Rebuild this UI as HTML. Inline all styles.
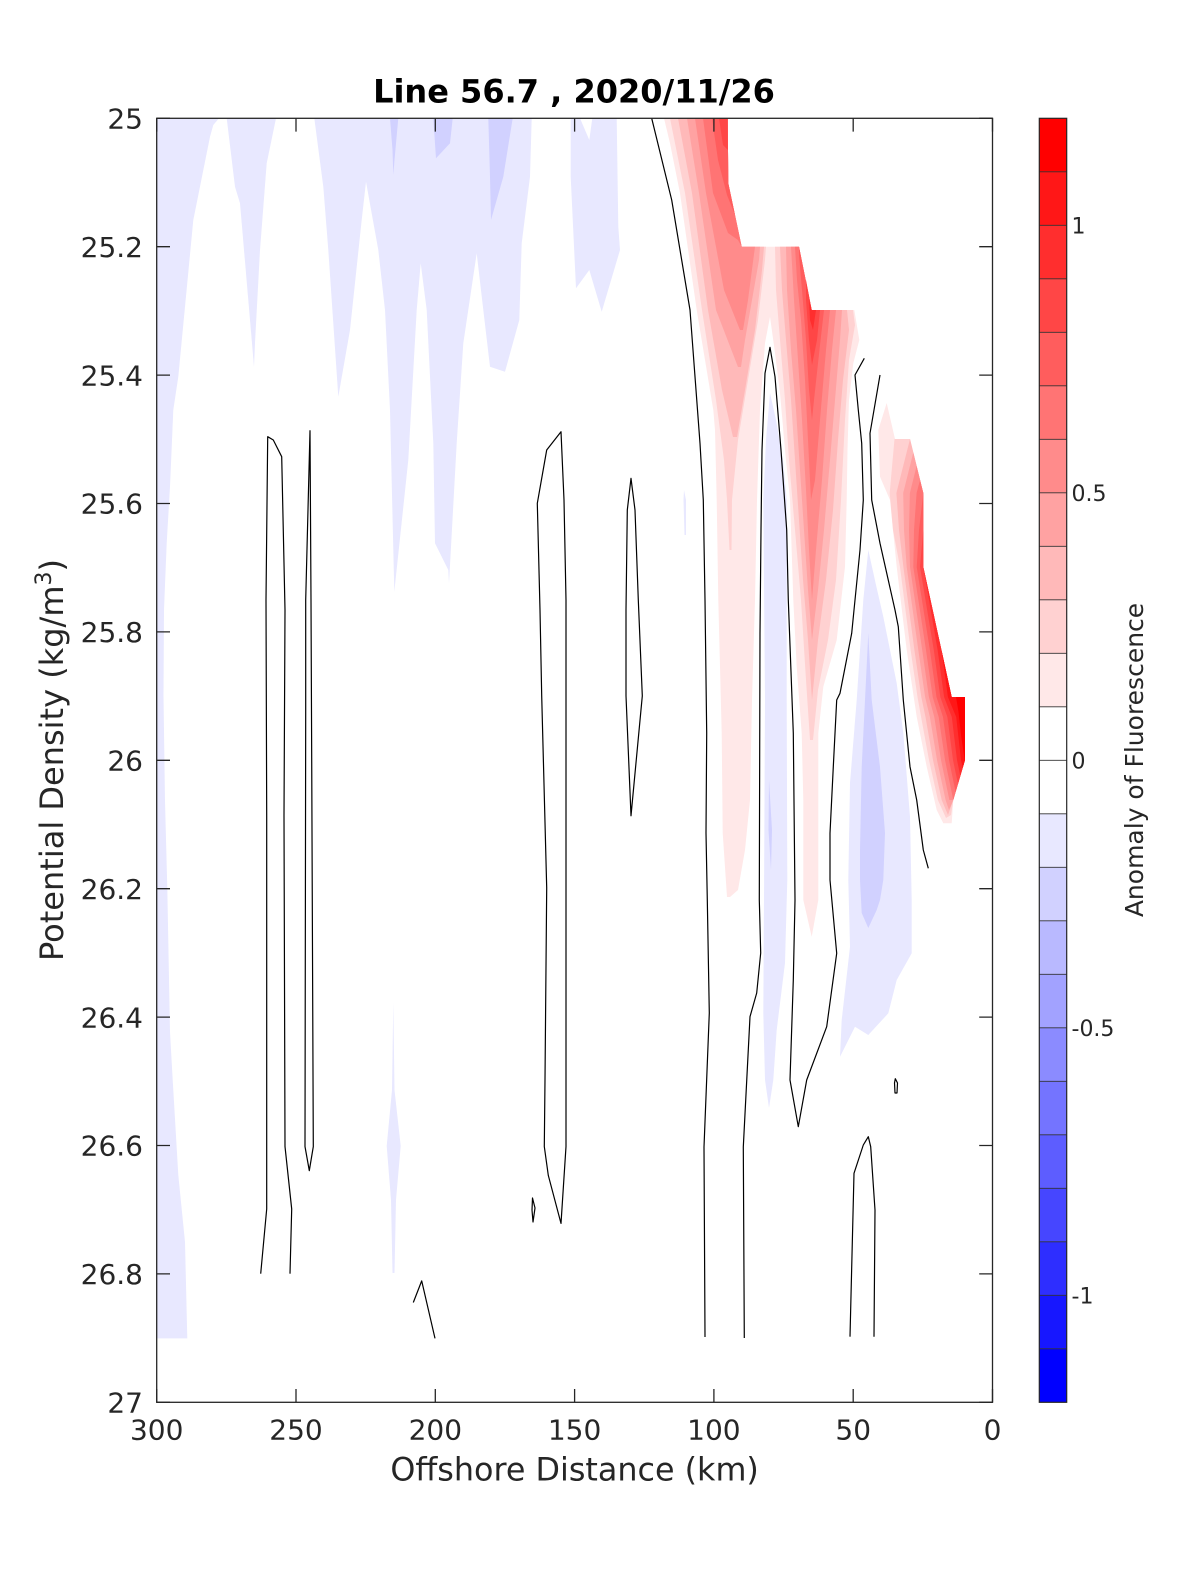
<!DOCTYPE html>
<html><head><meta charset="utf-8"><style>html,body{margin:0;padding:0;background:#fff}svg{display:block}</style></head><body>
<svg width="1200" height="1575" viewBox="0 0 1200 1575" xmlns="http://www.w3.org/2000/svg" font-family="'DejaVu Sans','Liberation Sans',sans-serif">
<rect width="1200" height="1575" fill="#fff"/>
<!-- blue L1 regions -->
<g fill="#e8e8ff" stroke="none">
<polygon points="156.7,118.3 219,118.3 213.3,125 210,136.7 193.3,220 178.3,376.7 173.3,410 170,486.7 166.7,543.3 164,610 163.5,696 165,801 167.3,888 170,1032 172.7,1080 178.3,1175 185,1242 187.3,1338.4 156.7,1338.4"/>
<polygon points="226.7,118.3 276,118.3 266.7,163.3 260,250 255,343 254,366.7 240,203.3 235,186.7"/>
<polygon points="314.3,118.3 531.7,118.3 530,176.7 521.7,243.3 519.3,320 505,371.7 490,366.7 483.3,310 476.7,253.3 463.3,343.3 456.7,443.3 449,583.3 448.3,570 435,543.3 433.3,443.3 426.7,310 420.7,263.3 416.7,310 408.3,460 394.3,591.7 390,410 385,310 378.3,250 366,181.7 361.7,220 350,330 338.3,396.7 328.3,250 323.3,186.7"/>
<polygon points="570.7,118.3 580,118.3 589.3,140 592.3,118.3 616.7,118.3 618.3,226.7 620,250 601.7,311.7 589.3,270 576,288.3 570.7,176.7"/>
<polygon points="684,490 686,500 686,535 684.5,535 683.5,500"/>
<polygon points="393.3,1002 394.5,1090 400.7,1146 396,1200 394.5,1273 392.5,1273 391,1200 386.7,1146 392,1090"/>
<polygon points="770,393 776,420 783,460 786.7,500 786.7,700 787.3,880 785,963 776.7,1030 773.3,1080 769,1108 765,1080 763.3,1013 764,900 765,700 763.3,500 766,440"/>
<polygon points="868.3,550 876,585 883.3,616.7 896.7,683.3 903.3,733 910,816.7 911.7,900 911.7,953.3 896.7,980 888.3,1013.3 868.3,1035 855,1026.7 840,1056.7 841.7,1020 850,946.7 848.3,880 850,783 856.7,700 863.3,600"/>
</g>
<!-- blue L2 -->
<g fill="#d1d1ff" stroke="none">
<polygon points="390,118.3 398.3,118.3 394.5,160 393.3,175 392.5,150"/>
<polygon points="433.3,118.3 452.7,118.3 450,143.3 436,158.3"/>
<polygon points="488.3,118.3 512.7,118.3 503.3,176.7 491,220 490,176.7"/>
<polygon points="769,780 772,830 771,870 768.5,830"/>
<polygon points="868.3,633 871.7,700 880,767 885,833 883.3,880 880,900 876.7,910 868.3,928 861.7,913 860,880 860,850 861.7,767 865,700"/>
</g>
<!-- red ridge 1+2 -->
<polygon fill="#ffe8e8" points="664,118.3 727.7,118.3 728.3,183.3 741.7,246.7 799,246.7 811.7,310 854.3,310 859.3,340 853.3,363.3 849,400 847.5,450 846.7,500 845,566.7 836.7,640 823.3,686.7 818.3,733.3 818.3,900 811.7,936.7 803.3,900 803.3,800 801.7,733.3 796.7,666.7 793.3,600 790,500 785,450 780,393 775,353 770,316.7 765,343 760,410 757,500 755,600 752,700 750,800 745,850 738,890 730,897 727,897 722.7,833 721.7,733 718.3,600 716.7,500 715,430 713.3,410 696.7,310 680,193.3 670,143.3"/>
<g stroke="none">
<polygon fill="#ffd1d1" points="670,118.3 727.7,118.3 728.3,183.3 741.7,246.7 766,246.7 765,260 758,320 748,380 738,440 732,500 731.5,550 729.5,550 727,500 724,460 716,400 702,310 685,193"/>
<polygon fill="#ffb9b9" points="678,118.3 727.7,118.3 728.3,183.3 741.7,246.7 764,246.7 762,270 755,330 745,390 737,437 733,437 722,390 708,310 692,193"/>
<polygon fill="#ffa2a2" points="687,118.3 727.7,118.3 728.3,183.3 741.7,246.7 760,246.7 759,260 752,300 745,340 741,367 738,367 716,310 699,193"/>
<polygon fill="#ff8b8b" points="695,118.3 727.7,118.3 728.3,183.3 741.7,246.7 755,246.7 748,300 743,330 740,330 724,290 706,193"/>
<polygon fill="#ff7474" points="703,118.3 727.7,118.3 728.3,183.3 741.7,246.7 738,240 728,233 713,193"/>
<polygon fill="#ff5d5d" points="712,118.3 727.7,118.3 728.3,183.3 735,215 727,195 718,160"/>
<polygon fill="#ff4646" points="719,118.3 727.7,118.3 727.9,150 723,145"/>
<polygon fill="#ffd1d1" points="775,246.7 799,246.7 811.7,310 853,310 855,325 849,360 845,420 841,500 836,580 828,640 818,690 813,740 810,740 806,680 801,600 795,530 789,460 785,400 780,340 776,290"/>
<polygon fill="#ffb9b9" points="780,246.7 799,246.7 811.7,310 847,310 849,330 843,380 838,440 833,510 826,580 818,640 812,700 808,640 803,580 799,520 795,460 791,400 786,340 782,290"/>
<polygon fill="#ffa2a2" points="786,246.7 799,246.7 811.7,310 842,310 840,340 835,400 830,460 824,530 818,590 812,640 808,590 804,530 800,470 796,410 791,350 787,290"/>
<polygon fill="#ff8b8b" points="791,246.7 799,246.7 811.7,310 836,310 832,350 827,410 822,480 816,550 812,600 809,550 806,490 802,420 798,360 794,300"/>
<polygon fill="#ff7474" points="795,246.7 799,246.7 811.7,310 830,310 826,350 820,420 815,480 811,500 808,440 805,380 801,320 797,280"/>
<polygon fill="#ff5d5d" points="799,246.7 811.7,310 824,310 820,345 814,400 812,420 809,390 806,340 802,290 799,255"/>
<polygon fill="#ff4646" points="806,280 811.7,310 820,310 817,340 812,365 809,340 806,300"/>
<polygon fill="#ff2e2e" points="809,300 811.7,310 816,310 813,330 810,320"/>
</g>
<!-- red ridge 3 -->
<g stroke="none">
<polygon fill="#ffe8e8" points="886.7,403 895,439 910,439 923.3,493 923.3,567 951.7,697 965,697 965,760 953.3,800 951.7,823.3 943.3,823.3 936.7,810 926.7,766.7 916.7,716.7 906.7,650 896.7,566.7 890,500 880,476.7 878.3,430"/>
<polygon fill="#ffd1d1" points="894.5,439 910,439 923.3,493 923.3,567 951.7,697 965,697 965,760 953.3,800 951,815 946,818 937.9,800 929,760 921.1,717 917.5,697 910.6,650 900,567 893,530 889.7,493"/>
<polygon fill="#ffb9b9" points="910,439 923.3,493 923.3,567 951.7,697 965,697 965,760 953.3,800 948,815 941.7,800 933,760 925.5,717 921.3,697 914.4,650 903.4,567 899,530 896.4,493"/>
<polygon fill="#ffa2a2" points="913.3,452.5 923.3,493 923.3,567 951.7,697 965,697 965,760 953.3,800 949,810 945.6,800 937,760 929.9,717 925.1,697 918.3,650 906.7,567 904,530 903.2,493"/>
<polygon fill="#ff8b8b" points="916.6,466 923.3,493 923.3,567 951.7,697 965,697 965,760 953.3,800 949.4,800 941,760 934.3,717 928.9,697 922.2,650 910,567 909,530 909.9,493"/>
<polygon fill="#ff7474" points="920,480 923.3,493 923.3,567 951.7,697 965,697 965,760 953.3,800 945,760 938.7,717 932.7,697 926,650 913.3,567 914,530 916.6,493"/>
<polygon fill="#ff5d5d" points="923.3,493 923.3,567 951.7,697 965,697 965,760 955.6,792 949,760 943,717 936.5,697 929.9,650 916.7,567 919,530"/>
<polygon fill="#ff4646" points="923.3,530 923.3,567 951.7,697 965,697 965,760 958,784 953,760 947.4,717 940.3,697 933.8,650 920,567"/>
<polygon fill="#ff2e2e" points="923.3,567 951.7,697 965,697 965,760 960.3,776 957,760 951.8,717 944.1,697 937.6,650"/>
<polygon fill="#ff1717" points="941.5,650 951.7,697 965,697 965,760 962.7,768 961,760 956.2,717 947.9,697"/>
<polygon fill="#ff0000" points="956,697 965,697 965,762 961,735 958.5,712"/>
</g>
<!-- contour lines -->
<g fill="none" stroke="#000" stroke-width="1.2" stroke-linejoin="round">
<polyline points="651.7,118.3 671.7,200 690,310 700,443.3 703.3,500 705,600 706.7,733 706,833 707.3,900 709.3,1013 704,1147 705,1337"/>
<polyline points="744.3,1338 743.3,1147 750,1016.7 756.7,993 760.7,953 759.3,900 760,633 761,530 762,450 765,373.3 770,347.3 775,376.7 781,450 786.7,530 788.3,600 793.3,733 795,900 793.3,980 790,1080 798.3,1126.7 806.7,1080 826.7,1026.7 836.7,953.3 830,880 830,833.3 833.3,766.7 836.7,700 840,693.3 851.7,633.3 854,610 860,550 863.3,500 861.7,443.3 858.3,410 855,375 864.3,358.3"/>
<polyline points="880,375 870,433.3 871.7,500 880,543.3 895,610 898.3,626.7 903.3,700 910,766.7 916.7,800 923.3,850 928.3,868.3"/>
<polyline points="260.7,1273.7 266.7,1209 266.7,815.8 266,600 267.7,436.7 273.3,440 281.7,456.7 285,610 284,815.8 285,1146.6 291.7,1209 290,1273.7"/>
<polygon points="310,430.7 305.7,600 305.7,710 305,1146.6 309.3,1170.6 313.3,1146.6 311.7,758 311,600"/>
<polygon points="561,431.7 546.7,450 537.3,503.3 540,610 541.7,695.9 546.7,887.7 545,1079.5 544.3,1146.6 548.3,1175.4 561,1223.4 566,1146.6 566,600 564,500"/>
<polygon points="532.5,1198 535,1208 533,1222 532,1210"/>
<polygon points="631,478.3 627.3,510 626,610 626,695.9 631,815.8 642.3,695.9 638.3,600 635,510"/>
<polyline points="413.3,1302.5 421.7,1280.9 435,1338.4"/>
<polyline points="850,1336.7 854,1173.3 863.3,1145 868.3,1136.7 870.7,1146.7 875,1210 874,1336.7"/>
<polygon points="895.3,1078.7 897.5,1083 897,1093 895,1093 894.5,1083"/>
</g>
<!-- axes box and ticks -->
<g stroke="#262626" stroke-width="1.3" fill="none">
<rect x="156.7" y="118.3" width="835.8" height="1284"/>
<path d="M156.7,1402.3V1389M296,1402.3V1389M435.3,1402.3V1389M574.6,1402.3V1389M713.9,1402.3V1389M853.2,1402.3V1389M992.5,1402.3V1389
M156.7,118.3V131.6M296,118.3V131.6M435.3,118.3V131.6M574.6,118.3V131.6M713.9,118.3V131.6M853.2,118.3V131.6M992.5,118.3V131.6
M156.7,118.3H170M156.7,246.7H170M156.7,375.1H170M156.7,503.5H170M156.7,631.9H170M156.7,760.3H170M156.7,888.7H170M156.7,1017.1H170M156.7,1145.5H170M156.7,1273.9H170M156.7,1402.3H170
M992.5,118.3H979.2M992.5,246.7H979.2M992.5,375.1H979.2M992.5,503.5H979.2M992.5,631.9H979.2M992.5,760.3H979.2M992.5,888.7H979.2M992.5,1017.1H979.2M992.5,1145.5H979.2M992.5,1273.9H979.2M992.5,1402.3H979.2"/>
</g>
<!-- tick labels -->
<g fill="#262626" font-size="28" text-anchor="end">
<text x="143" y="128.5">25</text>
<text x="143" y="256.9">25.2</text>
<text x="143" y="385.3">25.4</text>
<text x="143" y="513.7">25.6</text>
<text x="143" y="642.1">25.8</text>
<text x="143" y="770.5">26</text>
<text x="143" y="898.9">26.2</text>
<text x="143" y="1027.3">26.4</text>
<text x="143" y="1155.7">26.6</text>
<text x="143" y="1284.1">26.8</text>
<text x="143" y="1412.5">27</text>
</g>
<g fill="#262626" font-size="28" text-anchor="middle">
<text x="156.7" y="1439.5">300</text>
<text x="296" y="1439.5">250</text>
<text x="435.3" y="1439.5">200</text>
<text x="574.6" y="1439.5">150</text>
<text x="713.9" y="1439.5">100</text>
<text x="853.2" y="1439.5">50</text>
<text x="992.5" y="1439.5">0</text>
</g>
<text x="574.6" y="1480.5" font-size="31.8" fill="#262626" text-anchor="middle">Offshore Distance (km)</text>
<text transform="translate(63,760) rotate(-90)" font-size="32" fill="#262626" text-anchor="middle">Potential Density (kg/m<tspan font-size="22" dy="-12">3</tspan><tspan dy="12">)</tspan></text>
<text x="574" y="102.5" font-size="32" font-weight="bold" fill="#000" text-anchor="middle">Line 56.7 , 2020/11/26</text>
<!-- colorbar -->
<g stroke="none">
<rect x="1039.3" y="118.3" width="27.4" height="53.5" fill="#ff0000"/>
<rect x="1039.3" y="171.8" width="27.4" height="53.5" fill="#ff1717"/>
<rect x="1039.3" y="225.3" width="27.4" height="53.5" fill="#ff2e2e"/>
<rect x="1039.3" y="278.8" width="27.4" height="53.5" fill="#ff4646"/>
<rect x="1039.3" y="332.3" width="27.4" height="53.5" fill="#ff5d5d"/>
<rect x="1039.3" y="385.8" width="27.4" height="53.5" fill="#ff7474"/>
<rect x="1039.3" y="439.3" width="27.4" height="53.5" fill="#ff8b8b"/>
<rect x="1039.3" y="492.8" width="27.4" height="53.5" fill="#ffa2a2"/>
<rect x="1039.3" y="546.3" width="27.4" height="53.5" fill="#ffb9b9"/>
<rect x="1039.3" y="599.8" width="27.4" height="53.5" fill="#ffd1d1"/>
<rect x="1039.3" y="653.3" width="27.4" height="53.5" fill="#ffe8e8"/>
<rect x="1039.3" y="706.8" width="27.4" height="107" fill="#ffffff"/>
<rect x="1039.3" y="813.8" width="27.4" height="53.5" fill="#e8e8ff"/>
<rect x="1039.3" y="867.3" width="27.4" height="53.5" fill="#d1d1ff"/>
<rect x="1039.3" y="920.8" width="27.4" height="53.5" fill="#b9b9ff"/>
<rect x="1039.3" y="974.3" width="27.4" height="53.5" fill="#a2a2ff"/>
<rect x="1039.3" y="1027.8" width="27.4" height="53.5" fill="#8b8bff"/>
<rect x="1039.3" y="1081.3" width="27.4" height="53.5" fill="#7474ff"/>
<rect x="1039.3" y="1134.8" width="27.4" height="53.5" fill="#5d5dff"/>
<rect x="1039.3" y="1188.3" width="27.4" height="53.5" fill="#4646ff"/>
<rect x="1039.3" y="1241.8" width="27.4" height="53.5" fill="#2e2eff"/>
<rect x="1039.3" y="1295.3" width="27.4" height="53.5" fill="#1717ff"/>
<rect x="1039.3" y="1348.8" width="27.4" height="53.5" fill="#0000ff"/>
</g>
<g stroke="#333" stroke-width="0.9">
<path d="M1039.3,171.8H1066.7M1039.3,225.3H1066.7M1039.3,278.8H1066.7M1039.3,332.3H1066.7M1039.3,385.8H1066.7M1039.3,439.3H1066.7M1039.3,492.8H1066.7M1039.3,546.3H1066.7M1039.3,599.8H1066.7M1039.3,653.3H1066.7M1039.3,706.8H1066.7M1039.3,760.3H1066.7M1039.3,813.8H1066.7M1039.3,867.3H1066.7M1039.3,920.8H1066.7M1039.3,974.3H1066.7M1039.3,1027.8H1066.7M1039.3,1081.3H1066.7M1039.3,1134.8H1066.7M1039.3,1188.3H1066.7M1039.3,1241.8H1066.7M1039.3,1295.3H1066.7M1039.3,1348.8H1066.7"/>
</g>
<rect x="1039.3" y="118.3" width="27.4" height="1284" fill="none" stroke="#262626" stroke-width="1.2"/>
<g fill="#262626" font-size="22">
<text x="1071.5" y="233.3">1</text>
<text x="1071.5" y="500.8">0.5</text>
<text x="1071.5" y="768.3">0</text>
<text x="1071.5" y="1035.8">-0.5</text>
<text x="1071.5" y="1303.3">-1</text>
</g>
<text transform="translate(1143,760) rotate(-90)" font-size="25" fill="#262626" text-anchor="middle">Anomaly of Fluorescence</text>
</svg>
</body></html>
